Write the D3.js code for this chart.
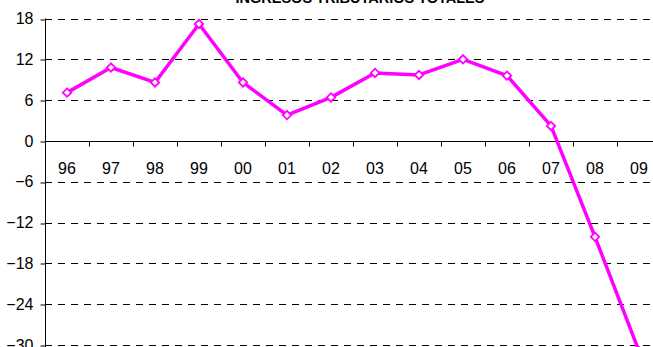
<!DOCTYPE html>
<html><head><meta charset="utf-8">
<script src="https://cdn.jsdelivr.net/npm/d3@7"></script>
<style>html,body{margin:0;padding:0;background:#fff;overflow:hidden}</style>
</head><body><div id="chart"></div>
<script>
const categories = ["96","97","98","99","00","01","02","03","04","05","06","07","08","09"];
const values = [7.1, 10.8, 8.6, 17.2, 8.6, 3.8, 6.4, 10.0, 9.7, 12.0, 9.6, 2.2, -14.1, -30.9];
const yTicks = [18, 12, 6, 0, -6, -12, -18, -24, -30];
const title = "INGRESOS TRIBUTARIOS TOTALES";

const W = 653, H = 347;
const svg = d3.select("#chart").append("svg").attr("width", W).attr("height", H)
  .style("font-family", "'Liberation Sans', Arial, sans-serif");

const x = d3.scaleBand().domain(categories).range([45, 661]).padding(0);
const y = d3.scaleLinear().domain([-30, 18]).range([345, 18.5]);

// gridlines
svg.append("g").selectAll("line").data(yTicks.filter(d => d !== 0)).join("line")
  .attr("x1", 45).attr("x2", 661)
  .attr("y1", d => Math.round(y(d)) + 0.5).attr("y2", d => Math.round(y(d)) + 0.5)
  .attr("stroke", "#000").attr("stroke-width", 1).attr("stroke-dasharray", "7,6");

// y axis
const yAxis = d3.axisLeft(y).tickValues(yTicks).tickSize(5).tickPadding(7).tickFormat(d3.format("d"));
const gy = svg.append("g").attr("transform", "translate(45.5,0)").call(yAxis);
gy.select(".domain").attr("d", `M0,${y(18)}V${H + 5}`).attr("stroke", "#000");
gy.selectAll(".tick line").attr("stroke", "#000")
  .attr("transform", d => `translate(0,${Math.round(y(d)) + 0.5 - y(d)})`);
gy.selectAll(".tick text").attr("font-size", 16).attr("fill", "#000")
  .attr("font-family", "'Liberation Sans', Arial, sans-serif");

// zero line with category ticks
const y0 = Math.round(y(0)) + 0.5;
svg.append("line").attr("x1", 45).attr("x2", 661).attr("y1", y0).attr("y2", y0).attr("stroke", "#000");
svg.append("g").selectAll("line").data(categories.slice(1)).join("line")
  .attr("x1", d => Math.round(x(d)) + 0.5).attr("x2", d => Math.round(x(d)) + 0.5)
  .attr("y1", y0).attr("y2", y0 + 5).attr("stroke", "#000");
svg.append("g").selectAll("text").data(categories).join("text")
  .attr("x", d => x(d) + x.bandwidth() / 2).attr("y", y0 + 32)
  .attr("text-anchor", "middle").attr("font-size", 16).attr("fill", "#000").text(d => d);

// title
svg.append("text").attr("x", 360).attr("y", 3).attr("text-anchor", "middle")
  .attr("font-size", 14.5).attr("font-weight", "bold").attr("fill", "#000").text(title);

// line
const pts = categories.map((c, i) => [x(c) + x.bandwidth() / 2, y(values[i])]);
svg.append("path").attr("d", d3.line()(pts)).attr("fill", "none")
  .attr("stroke", "#FF00FF").attr("stroke-width", 3.5).attr("stroke-linejoin", "round");

// markers
const r = 4.2;
svg.append("g").selectAll("path").data(pts).join("path")
  .attr("d", d => `M${d[0]},${d[1] - r}L${d[0] + r},${d[1]}L${d[0]},${d[1] + r}L${d[0] - r},${d[1]}Z`)
  .attr("fill", "#fff").attr("stroke", "#FF00FF").attr("stroke-width", 1.8);
</script></body></html>
